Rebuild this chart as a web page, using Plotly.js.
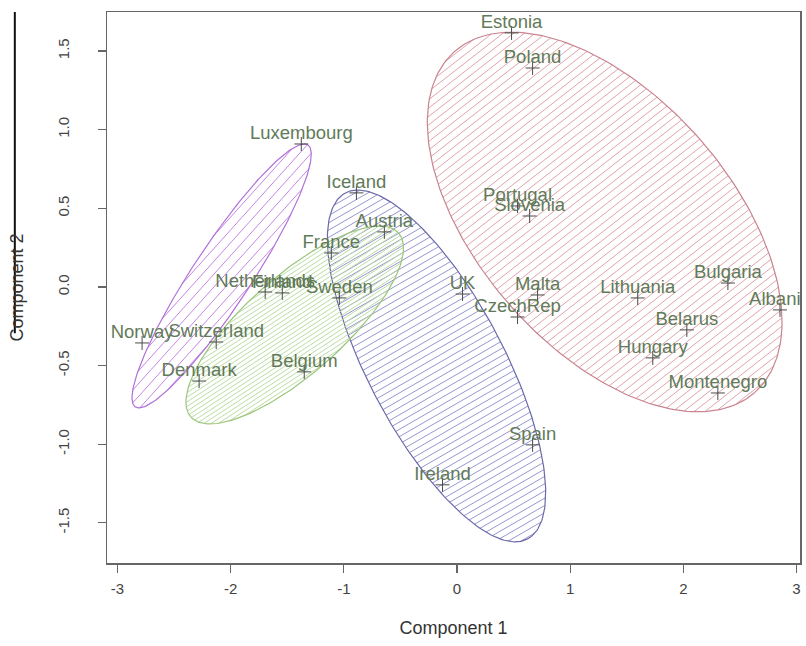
<!DOCTYPE html>
<html>
<head>
<meta charset="utf-8">
<script src="https://cdn.plot.ly/plotly-3.0.1.min.js"></script>
<style>
  html, body { margin: 0; padding: 0; background: #ffffff; }
  #chart { width: 806px; height: 646px; }
</style>
</head>
<body>
<div id="chart"></div>
<script>
// Country scores on the first two principal components
const countries = [
  "Estonia", "Poland", "Portugal", "Slovenia", "UK", "Malta", "CzechRep",
  "Lithuania", "Bulgaria", "Albania", "Belarus", "Hungary", "Montenegro",
  "Spain", "Ireland", "Luxembourg", "Iceland", "Austria", "France",
  "Netherlands", "Finland", "Sweden", "Norway", "Switzerland", "Denmark", "Belgium"
];
const comp1 = [
  0.482, 0.668, 0.535, 0.642, 0.049, 0.712, 0.535,
  1.597, 2.394, 2.854, 2.031, 1.730, 2.305,
  0.668, -0.128, -1.376, -0.889, -0.642, -1.111,
  -1.695, -1.544, -1.040, -2.783, -2.128, -2.279, -1.350
];
const comp2 = [
  1.615, 1.392, 0.515, 0.451, -0.045, -0.051, -0.191,
  -0.070, 0.025, -0.146, -0.273, -0.451, -0.674,
  -1.004, -1.258, 0.909, 0.598, 0.350, 0.216,
  -0.032, -0.038, -0.070, -0.356, -0.350, -0.598, -0.540
];

// Cluster ellipses: centre plus the two half-axis vectors (component units)
const ellCentreX = [1.305, -0.181, -2.080, -1.434];
const ellCentreY = [0.413, -0.502, 0.070, -0.242];
const ellAxisAX  = [1.324, 0.804, 0.762, 0.918];
const ellAxisAY  = [-1.085, -1.100, 0.833, 0.585];
const ellAxisBX  = [-0.839, -0.533, 0.216, 0.286];
const ellAxisBY  = [-0.528, -0.201, -0.102, -0.231];

// Axis ticks
const xTicks = [-3, -2, -1, 0, 1, 2, 3];
const yTicks = [-1.5, -1.0, -0.5, 0.0, 0.5, 1.0, 1.5];
const yTickText = ["-1.5", "-1.0", "-0.5", "0.0", "0.5", "1.0", "1.5"];

// ---- styling ----
const W = 806, H = 646;
const M = { l: 107, r: 6, t: 12, b: 83 };
const xRange = [-3.093, 3.031];
const yRange = [-1.755, 1.748];
const FONT = "Liberation Sans, Arial, sans-serif";
const shade = [
  { edge: "#c9848e", hatch: "#e0a4ad", angle: 38, gap: 6.6 },
  { edge: "#6a6aaa", hatch: "#9696d2", angle: 30, gap: 6.3 },
  { edge: "#b070d8", hatch: "#c586e4", angle: 48, gap: 8.6 },
  { edge: "#9cc67c", hatch: "#bcdca4", angle: 33, gap: 3.9 }
];

// pixels per unit on each axis, so hatch angle and spacing are in screen space
const sx = (W - M.l - M.r) / (xRange[1] - xRange[0]);
const sy = (H - M.t - M.b) / (yRange[1] - yRange[0]);

function ellipseTraces(i) {
  const cx = ellCentreX[i], cy = ellCentreY[i];
  const ax = ellAxisAX[i], ay = ellAxisAY[i], bx = ellAxisBX[i], by = ellAxisBY[i];
  const pt = t => [cx + ax * Math.cos(t) + bx * Math.sin(t),
                   cy + ay * Math.cos(t) + by * Math.sin(t)];
  // outline
  const ox = [], oy = [];
  for (let k = 0; k <= 240; k++) {
    const p = pt(2 * Math.PI * k / 240);
    ox.push(p[0]); oy.push(p[1]);
  }
  // hatch lines: families n.P = const in screen space
  const st = shade[i];
  const phi = st.angle * Math.PI / 180;
  const nx = -Math.sin(phi), ny = Math.cos(phi);
  const nC = nx * cx * sx + ny * cy * sy;
  const nA = nx * ax * sx + ny * ay * sy;
  const nB = nx * bx * sx + ny * by * sy;
  const R = Math.hypot(nA, nB), delta = Math.atan2(nB, nA);
  const hx = [], hy = [];
  for (let k = Math.ceil((nC - R) / st.gap) * st.gap; k <= nC + R; k += st.gap) {
    const c = (k - nC) / R;
    if (Math.abs(c) >= 1) continue;
    const w = Math.acos(c);
    const p1 = pt(delta + w), p2 = pt(delta - w);
    hx.push(p1[0], p2[0], null); hy.push(p1[1], p2[1], null);
  }
  return [
    { type: "scatter", mode: "lines", x: hx, y: hy, hoverinfo: "skip",
      line: { color: st.hatch, width: 1 }, showlegend: false },
    { type: "scatter", mode: "lines", x: ox, y: oy, hoverinfo: "skip",
      line: { color: st.edge, width: 1.2 }, showlegend: false }
  ];
}

const traces = [];
for (let i = 0; i < ellCentreX.length; i++) traces.push(...ellipseTraces(i));

traces.push({
  type: "scatter", mode: "markers", x: comp1, y: comp2,
  marker: { symbol: "cross-thin", size: 10, line: { color: "#4a4a4a", width: 1 } },
  hoverinfo: "skip", showlegend: false
});
traces.push({
  type: "scatter", mode: "text", x: comp1, y: comp2, text: countries,
  textposition: "top center",
  textfont: { family: FONT, size: 18.5, color: "#627a58" },
  hoverinfo: "skip", showlegend: false, cliponaxis: true
});

const axisFont = { family: FONT, size: 15, color: "#444444" };
const layout = {
  width: W, height: H,
  margin: M,
  paper_bgcolor: "#ffffff", plot_bgcolor: "#ffffff",
  showlegend: false,
  xaxis: {
    range: xRange, tickvals: xTicks, ticktext: xTicks.map(String),
    showgrid: false, zeroline: false,
    showline: true, mirror: true, linecolor: "#666666", linewidth: 1.5,
    ticks: "outside", ticklen: 8, tickcolor: "#666666", tickwidth: 1.2,
    tickfont: axisFont, ticklabelstandoff: 3,
    title: { text: "Component 1", standoff: 26,
             font: { family: FONT, size: 18, color: "#333333" } }
  },
  yaxis: {
    range: yRange, tickvals: yTicks, ticktext: yTickText,
    showgrid: false, zeroline: false,
    showline: true, mirror: true, linecolor: "#666666", linewidth: 1.5,
    ticks: "outside", ticklen: 8, tickcolor: "#666666", tickwidth: 1.2,
    tickfont: axisFont, tickangle: -90, ticklabelstandoff: 23,
    title: { text: "Component 2", standoff: 26,
             font: { family: FONT, size: 18, color: "#333333" } }
  },
  shapes: [
    { type: "line", xref: "paper", yref: "paper",
      x0: -0.133, x1: -0.133, y0: 1.0, y1: 0.417,
      line: { color: "#111111", width: 2 } }
  ]
};

Plotly.newPlot("chart", traces, layout, { staticPlot: true, displayModeBar: false });
</script>
</body>
</html>
